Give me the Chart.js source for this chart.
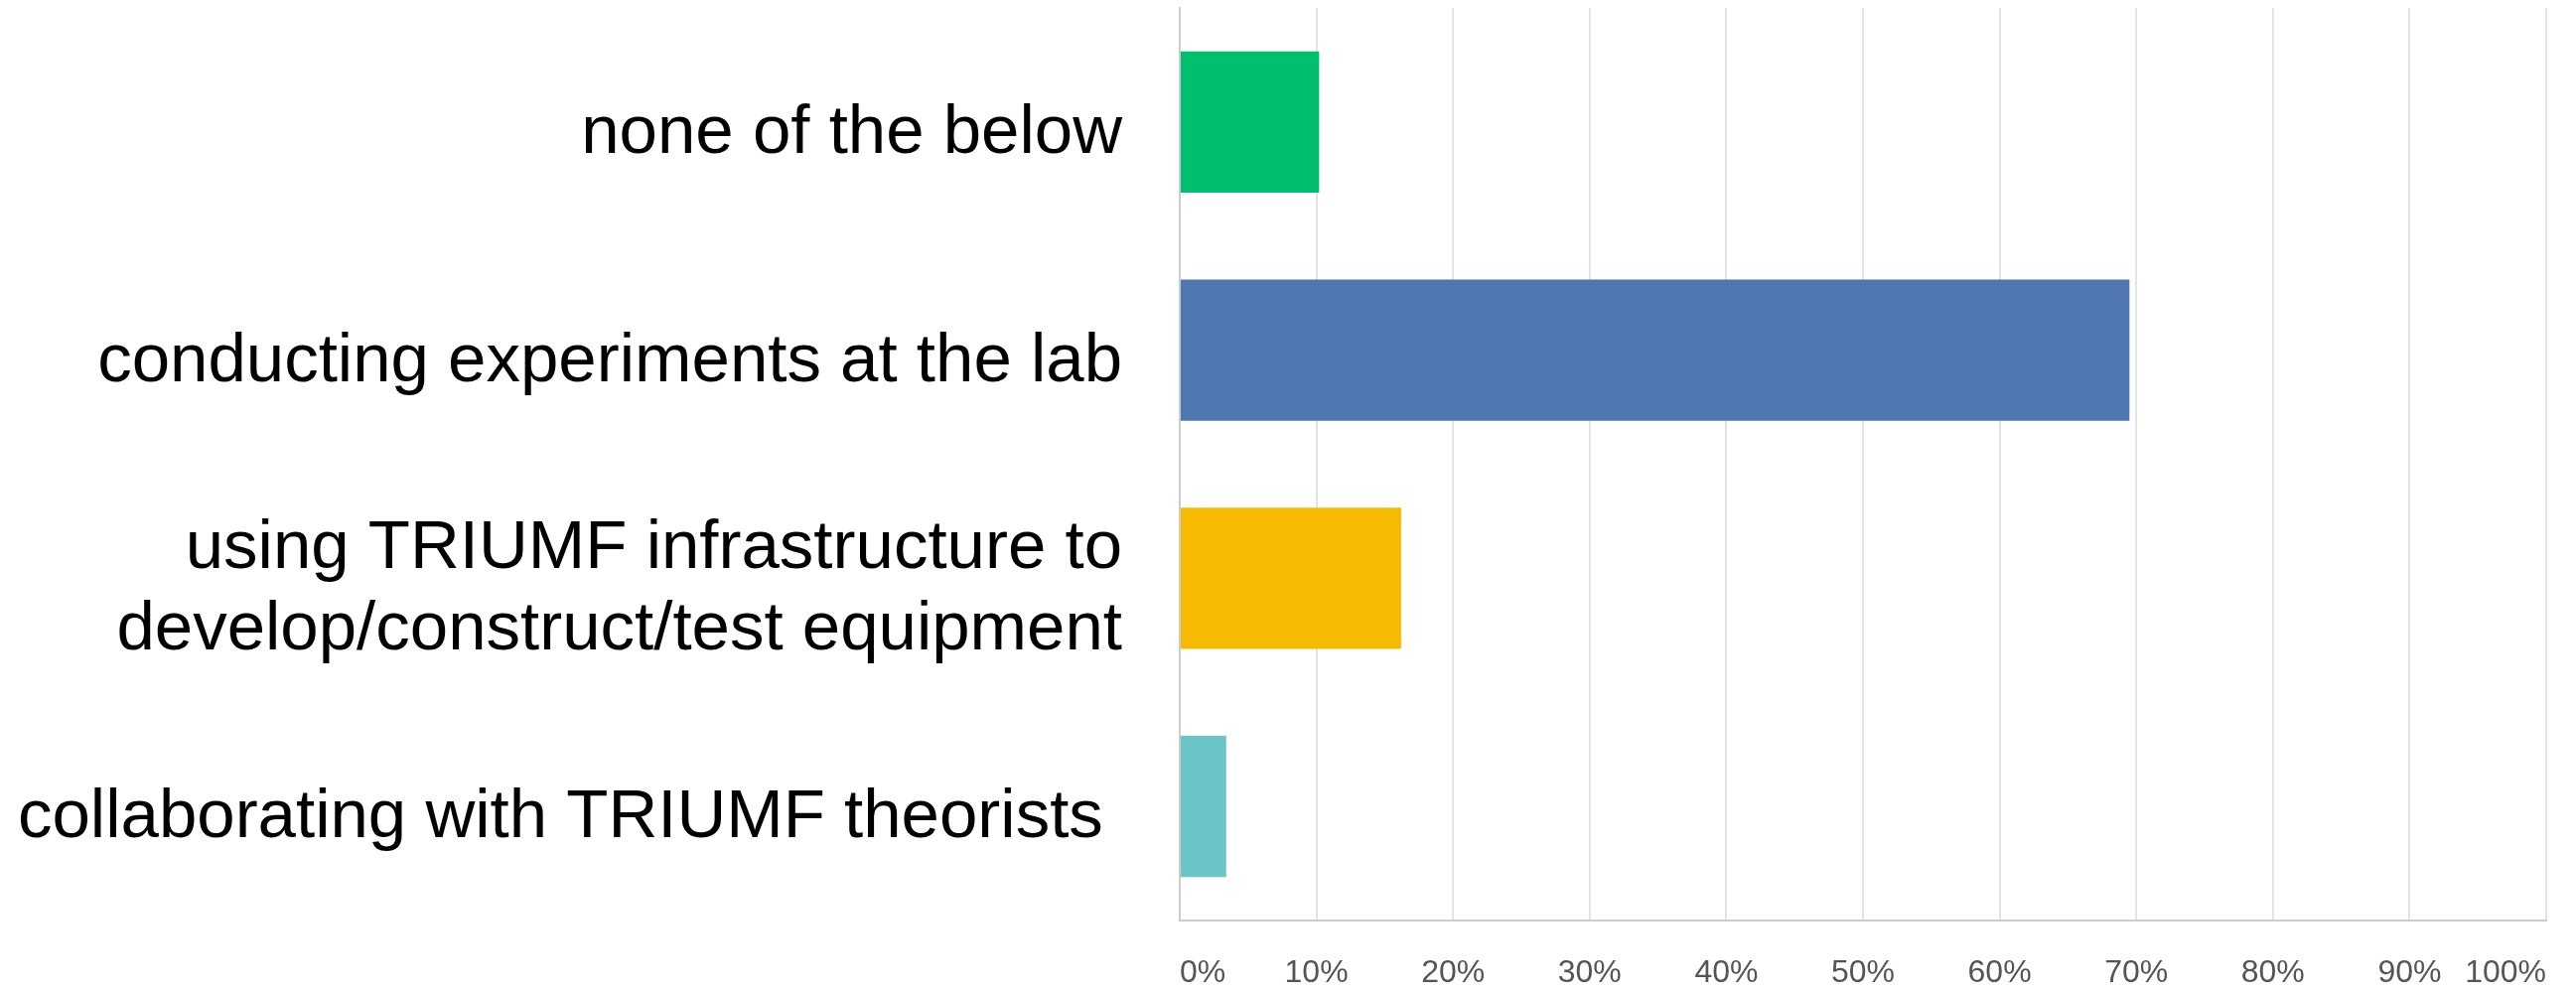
<!DOCTYPE html>
<html>
<head>
<meta charset="utf-8">
<script src="https://cdn.jsdelivr.net/npm/chart.js@4"></script>
<style>
  html, body { margin: 0; padding: 0; background: #fff; }
  #wrap { width: 2594px; height: 1000px; position: relative; }
</style>
</head>
<body>
<div id="wrap"><canvas id="answersChart"></canvas></div>
<script>
// answer options, top to bottom
const categories = [
  'none of the below',
  'conducting experiments at the lab',
  ['using TRIUMF infrastructure to', 'develop/construct/test equipment'],
  'collaborating with TRIUMF theorists '
];
// percent of respondents
const percentValues = [10.2, 69.5, 16.2, 3.4];
const barColors = ['#00bf6f', '#4f78b3', '#f6bb00', '#6bc4c8'];
const tickValues = [0, 10, 20, 30, 40, 50, 60, 70, 80, 90, 100];

const ctx = document.getElementById('answersChart').getContext('2d');
const answersChart = new Chart(ctx, {
  type: 'bar',
  data: {
    labels: categories,
    datasets: [{
      data: percentValues,
      backgroundColor: barColors,
      borderWidth: 0,
      categoryPercentage: 1,
      barPercentage: 0.62
    }]
  },
  options: {
    indexAxis: 'y',
    responsive: true,
    maintainAspectRatio: false,
    animation: false,
    layout: { padding: { top: 8, right: 30, bottom: 0, left: 0 } },
    plugins: {
      legend: { display: false },
      tooltip: { enabled: false }
    },
    scales: {
      x: {
        min: 0,
        max: 100,
        afterBuildTicks: scale => {
          scale.ticks = tickValues.map(v => ({ value: v }));
        },
        afterFit: scale => {
          scale.height = 73;
          scale.paddingLeft = 0;
          scale.paddingRight = 0;
        },
        grid: { color: '#e4e4e4', lineWidth: 2, drawTicks: false },
        border: { color: '#cccccc', width: 2 },
        ticks: {
          align: 'inner',
          padding: 34,
          color: '#555',
          font: { family: 'Liberation Sans, Arial, sans-serif', size: 32 },
          callback: v => v + '%'
        }
      },
      y: {
        afterFit: scale => {
          scale.width = 1188;
          scale.paddingTop = 0;
          scale.paddingBottom = 0;
        },
        grid: { display: false, drawTicks: false },
        border: { color: '#cccccc', width: 2 },
        ticks: {
          padding: 58,
          labelOffset: 12,
          color: '#000',
          font: { family: 'Liberation Sans, Arial, sans-serif', size: 69, lineHeight: 1.19 }
        }
      }
    }
  }
});
</script>
</body>
</html>
